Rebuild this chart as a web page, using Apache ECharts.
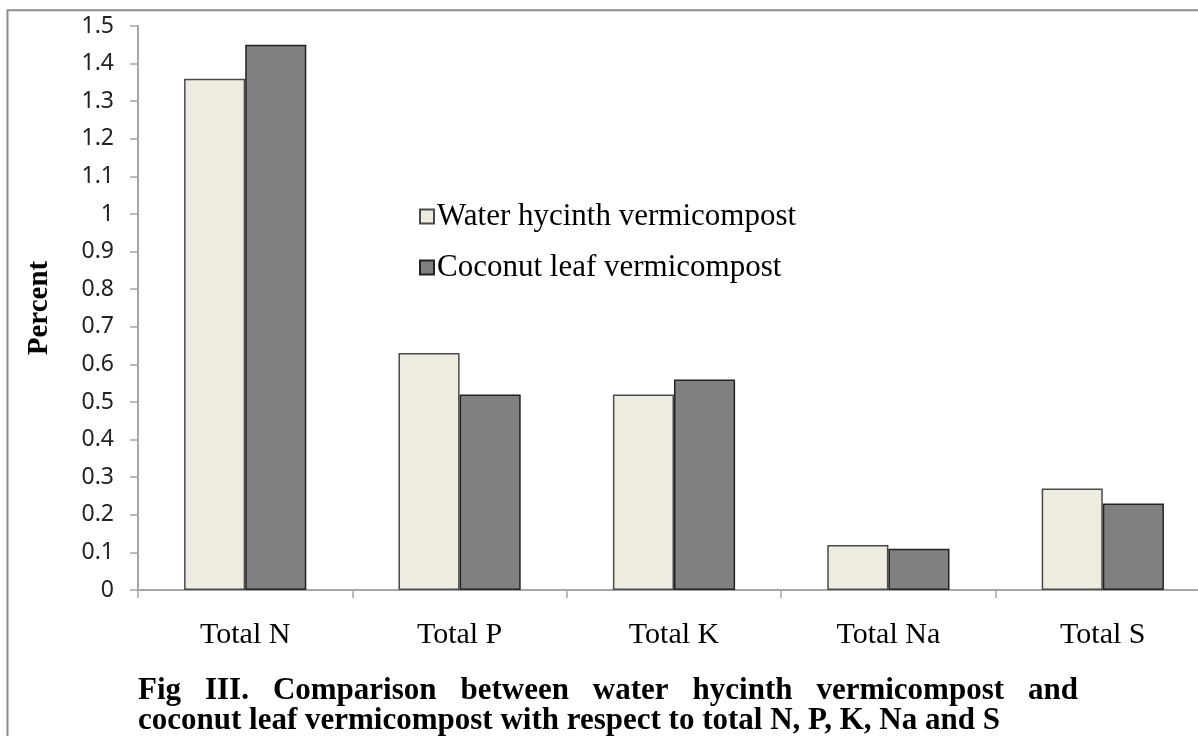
<!DOCTYPE html>
<html>
<head>
<meta charset="utf-8">
<script src="https://cdn.jsdelivr.net/npm/echarts@6/dist/echarts.min.js"></script>
<style>
html,body{margin:0;padding:0;background:#fff;}
#main{width:1198px;height:736px;}
</style>
</head>
<body>
<div id="main"></div>
<script>
const categories = ['Total N', 'Total P', 'Total K', 'Total Na', 'Total S'];
const seriesNames = ['Water hycinth vermicompost', 'Coconut leaf vermicompost'];
const waterHycinth = [1.36, 0.63, 0.52, 0.12, 0.27];
const coconutLeaf = [1.45, 0.52, 0.56, 0.11, 0.23];
const captionLine1 = ['Fig', 'III.', 'Comparison', 'between', 'water', 'hycinth', 'vermicompost', 'and'];
const captionLine2 = 'coconut leaf vermicompost with respect to total N, P, K, Na and S';

const chart = echarts.init(document.getElementById('main'), null, {renderer: 'canvas'});

const capFont = "bold 31px 'Liberation Serif'";
const ctx = document.createElement('canvas').getContext('2d');
ctx.font = capFont;
const lineLeft = 138, lineRight = 1078;
const widths = captionLine1.map(w => ctx.measureText(w).width);
const total = widths.reduce((a, b) => a + b, 0);
const gap = (lineRight - lineLeft - total) / (captionLine1.length - 1);
let cx = lineLeft;
const captionEls = captionLine1.map((w, i) => {
  const el = {
    type: 'text', left: cx, top: 675,
    style: {text: w, font: capFont, fill: '#000'}
  };
  cx += widths[i] + gap;
  return el;
});
captionEls.push({
  type: 'text', left: lineLeft, top: 705,
  style: {text: captionLine2, font: capFont, fill: '#000'}
});

const option = {
  animation: false,
  backgroundColor: '#fff',
  grid: {left: 138, top: 26, height: 564, width: 1072, containLabel: false, outerBoundsMode: 'none'},
  legend: {
    orient: 'vertical',
    left: 414, top: 196,
    itemWidth: 14, itemHeight: 14, itemGap: 20,
    icon: 'rect',
    textStyle: {fontFamily: 'Liberation Serif', fontSize: 31, color: '#000', padding: [0, 0, 0, -2]},
    data: seriesNames
  },
  xAxis: {
    type: 'category',
    data: categories,
    axisLine: {show: true, lineStyle: {color: '#a6a6a6', width: 2}},
    axisTick: {show: true, length: 8, lineStyle: {color: '#a6a6a6', width: 1.5}},
    axisLabel: {fontFamily: 'Liberation Serif', fontSize: 30, color: '#000', margin: 30},
  },
  yAxis: {
    type: 'value',
    min: 0, max: 1.5, interval: 0.1,
    name: 'Percent',
    nameLocation: 'middle',
    nameGap: 84,
    nameTextStyle: {fontFamily: 'Liberation Serif', fontWeight: 'bold', fontSize: 29, color: '#000'},
    axisLine: {show: true, lineStyle: {color: '#a6a6a6', width: 2}},
    axisTick: {show: true, length: 8, lineStyle: {color: '#a6a6a6', width: 1.5}},
    axisLabel: {fontFamily: 'Noto Sans', fontSize: 23, color: '#222', margin: 24},
    splitLine: {show: false}
  },
  series: [
    {
      name: seriesNames[0], type: 'bar', data: waterHycinth,
      barGap: '0%', barCategoryGap: '43%',
      itemStyle: {color: '#eeebe0', borderColor: '#4a4a4a', borderWidth: 1.5}
    },
    {
      name: seriesNames[1], type: 'bar', data: coconutLeaf,
      barGap: '0%', barCategoryGap: '43%',
      itemStyle: {color: '#808080', borderColor: '#222', borderWidth: 1.5}
    }
  ],
  graphic: [
    {
      type: 'rect', silent: true, z: -1,
      shape: {x: 7.5, y: 10.3, width: 1400, height: 900},
      style: {fill: 'none', stroke: '#8c8c8c', lineWidth: 2}
    }
  ].concat(captionEls)
};
chart.setOption(option);
</script>
</body>
</html>
